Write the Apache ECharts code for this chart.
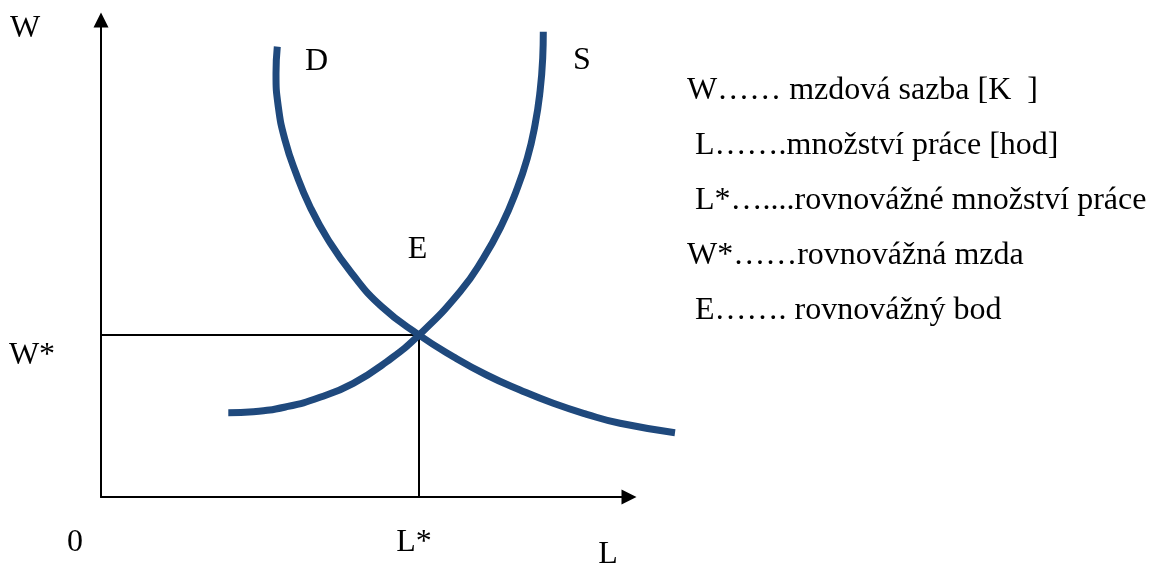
<!DOCTYPE html>
<html><head><meta charset="utf-8">
<script src="https://cdn.jsdelivr.net/npm/echarts@6/dist/echarts.min.js"></script>
<style>html,body{margin:0;padding:0;background:#fff}#c{width:1157px;height:565px}</style>
</head><body><div id="c"></div>
<script>
// Demand curve D (labour quantity L, wage W)
const demandL = [176.3, 175, 177.3, 184, 195, 209, 227.3, 250.7, 280.7, 318, 352.3, 385.7, 419, 452.3, 485.7, 519, 574];
const demandW = [450.3, 423.7, 390.3, 357, 323.7, 290.3, 257, 223.7, 190.3, 162, 140.3, 122, 107, 93.7, 82.7, 73.7, 64.3];
// Supply curve S
const supplyL = [127.3, 152.3, 185.7, 219, 252.3, 285.7, 318, 359, 382.3, 400.7, 415, 426.3, 434, 439, 441.7, 442.3];
const supplyW = [84.3, 85.3, 90.3, 99.7, 113.7, 135.3, 162, 205.3, 238.7, 272, 305.3, 338.7, 372, 405.3, 438.7, 465.3];
// Equilibrium E = (L*, W*)
const equilibriumL = [318];
const equilibriumW = [162];
// Texts
const axisTexts = ['W', 'W*', '0', 'L*', 'L'];
const curveTexts = ['D', 'S', 'E'];
const legendLines = [
  'W\u2026\u2026 mzdová sazba [K  ]',
  ' L\u2026\u2026.množství práce [hod]',
  ' L*\u2026....rovnovážné množství práce',
  'W*\u2026\u2026rovnovážná mzda',
  ' E\u2026\u2026. rovnovážný bod'
];

const FONT = '"Liberation Serif", "Times New Roman", serif';
const BLUE = '#1F497D';
const chart = echarts.init(document.getElementById('c'), null, {renderer: 'canvas'});

function axisCfg(max, gridIndex, show) {
  return {
    type: 'value', min: 0, max: max, gridIndex: gridIndex, show: show,
    axisLine: {show: show, onZero: false, symbol: ['none', 'triangle'], symbolSize: [15, 15],
      lineStyle: {color: '#000', width: 2}},
    axisTick: {show: false}, axisLabel: {show: false}, splitLine: {show: false}
  };
}

function txt(t, x, y, align) {
  return {type: 'text', x: x, y: y, silent: true,
    style: {text: t, font: '32px ' + FONT, fill: '#000', textAlign: align || 'center', textVerticalAlign: 'middle'}};
}

const axisPos = [[25, 29], [32, 356], [75, 543], [414, 543], [608, 555]];
const curvePos = [[316.5, 62], [582, 61], [417.5, 250]];
const legendY = [91, 146, 201, 256, 311];

const graphics = [];
axisTexts.forEach((t, i) => graphics.push(txt(t, axisPos[i][0], axisPos[i][1])));
curveTexts.forEach((t, i) => graphics.push(txt(t, curvePos[i][0], curvePos[i][1])));
legendLines.forEach((t, i) => graphics.push(txt(t, 687, legendY[i], 'left')));

chart.setOption({
  animation: false,
  grid: [
    {left: 101, top: 20, width: 528, height: 477, containLabel: false},
    {left: 101, top: 20, width: 580, height: 477, containLabel: false}
  ],
  xAxis: [axisCfg(528, 0, true), axisCfg(580, 1, false)],
  yAxis: [axisCfg(477, 0, true), axisCfg(477, 1, false)],
  series: [
    {type: 'line', name: 'ref', xAxisIndex: 0, yAxisIndex: 0,
      data: [[0, equilibriumW[0]], [equilibriumL[0], equilibriumW[0]], [equilibriumL[0], 0]],
      symbol: 'none', lineStyle: {color: '#000', width: 2}, z: 1},
    {type: 'line', name: 'D', xAxisIndex: 1, yAxisIndex: 1, data: demandL.map((l, i) => [l, demandW[i]]),
      smooth: 0.5, symbol: 'none', lineStyle: {color: BLUE, width: 7, cap: 'butt'}, z: 2},
    {type: 'line', name: 'S', xAxisIndex: 1, yAxisIndex: 1, data: supplyL.map((l, i) => [l, supplyW[i]]),
      smooth: 0.5, symbol: 'none', lineStyle: {color: BLUE, width: 7, cap: 'butt'}, z: 2}
  ],
  graphic: graphics
});
</script></body></html>
